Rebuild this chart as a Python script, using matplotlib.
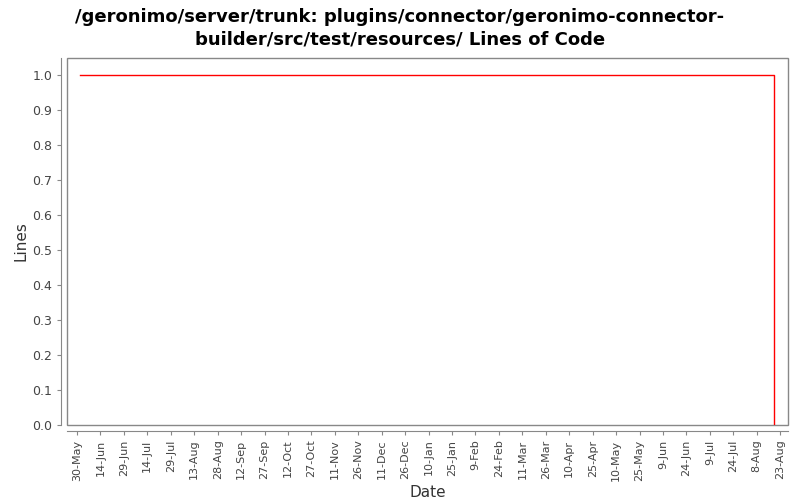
import matplotlib
matplotlib.use('Agg')
import matplotlib.pyplot as plt
from matplotlib.patches import Rectangle
import pandas as pd

# Data
dates = pd.to_datetime(['2006-06-01', '2007-08-19', '2007-08-19'])
lines = [1, 1, 0]

tick_start = pd.Timestamp('2006-05-30')
tick_dates = pd.date_range(tick_start, periods=31, freq='15D')
tick_labels = [f'{d.day}-{d.strftime("%b")}' for d in tick_dates]

title = '/geronimo/server/trunk: plugins/connector/geronimo-connector-\nbuilder/src/test/resources/ Lines of Code'

plt.rcParams['font.family'] = 'DejaVu Sans'

fig = plt.figure(figsize=(8, 5), dpi=100)
ax = fig.add_axes([67 / 800, 75 / 500, 721 / 800, 367 / 500])

ax.plot(dates, lines, color='red', linewidth=1)

ax.set_xlim(tick_start - pd.Timedelta(days=6.4), tick_start + pd.Timedelta(days=455))
ax.set_ylim(0, 1.0486)
ax.set_yticks([i / 10 for i in range(11)])
ax.set_yticklabels([f'{i / 10:.1f}' for i in range(11)])
ax.set_xticks(tick_dates)
ax.set_xticklabels(tick_labels)
ax.tick_params(axis='x', labelrotation=90, labelsize=8)
ax.tick_params(axis='y', labelsize=9)

for s in ['top', 'right']:
    ax.spines[s].set_visible(False)
for s in ['left', 'bottom']:
    ax.spines[s].set_position(('outward', 4))
    ax.spines[s].set_color('#888888')
ax.add_patch(Rectangle((0, 0), 1, 1, transform=ax.transAxes, fill=False,
                       edgecolor='#888888', linewidth=1, clip_on=False))

ax.tick_params(colors='#888888', labelcolor='#444444', length=3)

ax.set_xlabel('Date', fontsize=11, color='#333333')
ax.set_ylabel('Lines', fontsize=11, color='#333333')
ax.xaxis.set_label_coords(0.5, -0.163)
ax.yaxis.set_label_coords(-0.054, 0.5)
fig.suptitle(title, fontsize=13, fontweight='bold', y=0.985, linespacing=1.35)

fig.savefig('out.png', dpi=100)
